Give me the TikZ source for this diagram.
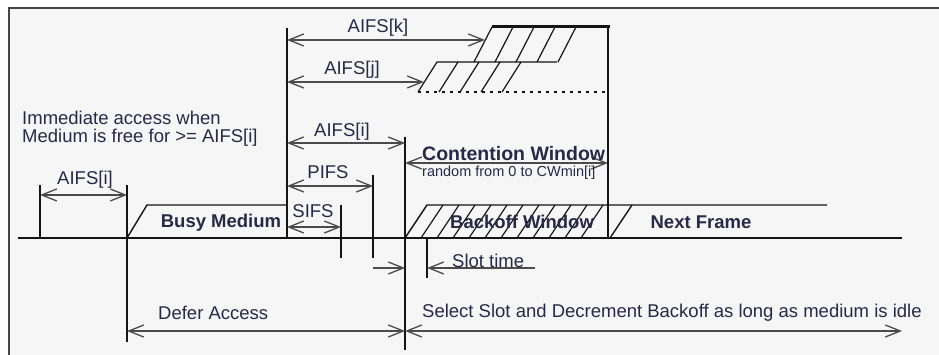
\documentclass[tikz,border=0pt]{standalone}
\usepackage{fontspec}
\setmainfont{Liberation Sans}
\usepackage{tikz}
\usetikzlibrary{arrows.meta, calc}
\definecolor{paper}{RGB}{246,246,246}
\definecolor{framegray}{RGB}{70,70,70}
\definecolor{inkline}{RGB}{20,20,20}
\definecolor{dimgray}{RGB}{75,75,75}
\definecolor{labelink}{RGB}{40,40,72}

\tikzset{
  medium/.style={inkline, line width=1.4pt},
  hatch/.style={inkline, line width=1.2pt},
  dim/.style={dimgray, line width=1.8pt,
    {Straight Barb[length=15pt,width=12pt,line width=1.3pt]}-{Straight Barb[length=15pt,width=12pt,line width=1.3pt]}},
  dimend/.style={dimgray, line width=1.8pt, -{Straight Barb[length=15pt,width=12pt,line width=1.3pt]}},
  dimstart/.style={dimgray, line width=1.8pt, {Straight Barb[length=15pt,width=12pt,line width=1.3pt]}-},
  lbl/.style={text=labelink, inner sep=0pt, font=\fontsize{18.5}{21}\selectfont},
  boldlbl/.style={lbl, font=\fontsize{18.5}{21}\selectfont\bfseries},
  smalllbl/.style={lbl, font=\fontsize{14.5}{16}\selectfont}
}

\begin{document}
\begin{tikzpicture}[x=1pt, y=-1pt]
  \useasboundingbox (0,0) rectangle (939,355);
  % paper and frame
  \fill[white] (0,0) rectangle (939,355);
  \fill[paper] (9,8) rectangle (939,355);
  \draw[framegray, line width=2pt] (9,355) -- (9,8) -- (939,8);

  % time marks on the medium line
  \coordinate (t0) at (40,238);   % AIFS[i] start
  \coordinate (t1) at (127,238);  % busy start
  \coordinate (t2) at (287,238);  % busy end
  \coordinate (t3) at (341,238);  % SIFS end
  \coordinate (t4) at (373,238);  % PIFS end
  \coordinate (t5) at (405,238);  % AIFS[i] end
  \coordinate (t6) at (427,238);  % first slot
  \coordinate (t7) at (608,238);  % CW end
  % levels of the dimension lines
  \path (0,40) coordinate (yK) (0,82) coordinate (yJ) (0,143) coordinate (yI)
        (0,163) coordinate (yCW) (0,186) coordinate (yP) (0,195) coordinate (yA)
        (0,227) coordinate (yS) (0,268) coordinate (ySl) (0,331) coordinate (yD);

  % medium line
  \draw[medium] (18,238) -- (902,238);

  % Busy Medium frame
  \draw[medium] (t1) -- (147,205) -- (t2 |- 0,205);
  \node[boldlbl] (busy) at (221,223) {Busy Medium};

  % ticks
  \draw[medium] (40,185) -- (t0);
  \draw[medium] (127,185) -- (127,342);
  \draw[medium] (287,28) -- (t2);
  \draw[medium] (341,205) -- (341,258);
  \draw[medium] (373,175) -- (373,258);
  \draw[medium] (405,137) -- (405,350);
  \draw[medium] (t6) -- (427,278);
  \draw[medium] (608,27) -- (t7);

  % AIFS[k] window
  \coordinate (kcorner) at (485,40);
  \draw[hatch] (474,62) -- (492,27);
  \draw[inkline, line width=3pt] (492,27) -- (610,27);
  \foreach \x in {513,534,555,576} \draw[hatch] (\x,27) -- ++(-18,35);

  % AIFS[j] window
  \coordinate (jcorner) at (424,82);
  \draw[hatch] (418,92) -- (437,62) -- (557,62);
  \foreach \x in {458,479,500,521} \draw[hatch] (\x,62) -- ++(-19,30);
  \draw[inkline, line width=1.3pt, dash pattern=on 3pt off 5pt] (418,92) -- (608,92);

  % Backoff Window and Next Frame
  \draw[medium] (t5) -- (427,205) -- (827,205);
  \foreach \x in {443,459,...,603} \draw[hatch] (\x,205) -- ++(-22,33);
  \draw[medium] (632,205) -- (610,238);
  \node[boldlbl] (backoff) at (522,222) {Backoff Window};
  \node[boldlbl] (next) at (701,222) {Next Frame};

  % dimension arrows
  \draw[dim] (t0 |- yA) -- (t1 |- yA);
  \node[lbl] (aifsL) at (85,180) {AIFS[i]};
  \draw[dim] (t2 |- yK) -- (kcorner);
  \node[lbl] (aifsK) at (378,28) {AIFS[k]};
  \draw[dim] (t2 |- yJ) -- (jcorner);
  \node[lbl] (aifsJ) at (352,70) {AIFS[j]};
  \draw[dim] (t2 |- yI) -- (t5 |- yI);
  \node[lbl] (aifsI) at (342,132) {AIFS[i]};
  \draw[dim] (t2 |- yP) -- (t4 |- yP);
  \node[lbl] (pifs) at (328,172) {PIFS};
  \draw[dim] (t2 |- yS) -- (t3 |- yS);
  \node[lbl] (sifs) at (313,211) {SIFS};
  \draw[dim] (t5 |- yCW) -- (t7 |- yCW);
  \node[boldlbl, anchor=west, font=\fontsize{19.5}{22}\selectfont\bfseries] (cw) at (422,154) {Contention Window};
  \node[smalllbl, anchor=west] (cwrange) at (422,173) {random from 0 to CWmin[i]};

  % slot time
  \draw[dimend] (t4 |- ySl) -- (t5 |- ySl);
  \draw[dimstart] (t6 |- ySl) -- (535,268);
  \node[lbl, anchor=west] (slot) at (452,261) {Slot time};

  % defer and backoff
  \draw[dim] (t1 |- yD) -- (t5 |- yD);
  \node[lbl, anchor=west] (defer) at (158,313) {Defer Access};
  \draw[dim] (t5 |- yD) -- (902,331);
  \node[lbl, anchor=west] (select) at (422,313) {Select Slot and Decrement Backoff as long as medium is idle};

  % immediate access note
  \node[lbl, anchor=west] (note1) at (22,118) {Immediate access when};
  \node[lbl, anchor=west] (note2) at (22,138) {Medium is free for >= AIFS[i]};
\end{tikzpicture}
\end{document}
